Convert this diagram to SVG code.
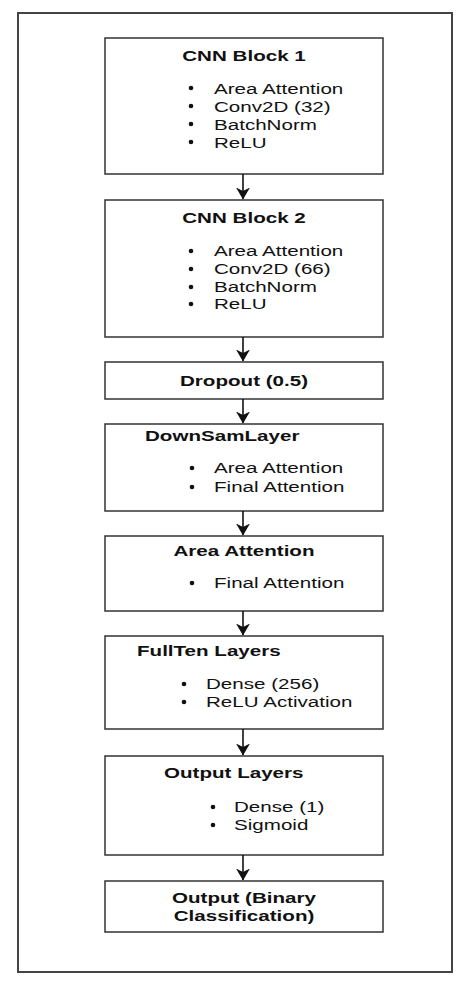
<svg xmlns="http://www.w3.org/2000/svg" width="471" height="986" viewBox="0 0 471 986">
<defs>
<marker id="ah" viewBox="0 0 12 14" refX="11.5" refY="7" markerWidth="12" markerHeight="14" markerUnits="userSpaceOnUse" orient="auto">
<path d="M0,0 L3.5,7 L0,14 L12,7 Z" fill="#111"/>
</marker>
</defs>
<style>
.frame{fill:#fff;stroke:#444;stroke-width:2}
.box{fill:#fff;stroke:#333;stroke-width:1.5}
.t{font-family:"Liberation Sans",Arial,sans-serif;font-size:14.5px;font-weight:bold;fill:#111}
.b{font-family:"Liberation Sans",Arial,sans-serif;font-size:14.5px;fill:#111}
.c{text-anchor:middle}
.dot{fill:#111}
.conn{stroke:#111;stroke-width:1.6;fill:none}
</style>
<rect x="0" y="0" width="471" height="986" fill="#fff"/>
<rect class="frame" x="18" y="13" width="434" height="959"/>

<g id="cnn1">
<rect class="box" x="105" y="38" width="278" height="136"/>
<text class="t c" transform="translate(244,61) scale(1.42,1)">CNN Block 1</text>
<circle class="dot" cx="191" cy="88" r="2.3"/><text class="b" transform="translate(214,94) scale(1.42,1)">Area Attention</text>
<circle class="dot" cx="191" cy="106" r="2.3"/><text class="b" transform="translate(214,112) scale(1.42,1)">Conv2D (32)</text>
<circle class="dot" cx="191" cy="124" r="2.3"/><text class="b" transform="translate(214,130) scale(1.42,1)">BatchNorm</text>
<circle class="dot" cx="191" cy="142" r="2.3"/><text class="b" transform="translate(214,148) scale(1.42,1)">ReLU</text>
</g>

<g id="cnn2">
<rect class="box" x="105" y="200" width="278" height="137"/>
<text class="t c" transform="translate(244,223) scale(1.42,1)">CNN Block 2</text>
<circle class="dot" cx="191" cy="251" r="2.3"/><text class="b" transform="translate(214,256) scale(1.42,1)">Area Attention</text>
<circle class="dot" cx="191" cy="269" r="2.3"/><text class="b" transform="translate(214,274) scale(1.42,1)">Conv2D (66)</text>
<circle class="dot" cx="191" cy="287" r="2.3"/><text class="b" transform="translate(214,292) scale(1.42,1)">BatchNorm</text>
<circle class="dot" cx="191" cy="304" r="2.3"/><text class="b" transform="translate(214,309) scale(1.42,1)">ReLU</text>
</g>

<g id="dropout">
<rect class="box" x="105" y="362" width="278" height="37"/>
<text class="t c" transform="translate(244,386) scale(1.42,1)">Dropout (0.5)</text>
</g>

<g id="downsam">
<rect class="box" x="105" y="424" width="278" height="87"/>
<text class="t" transform="translate(145,441) scale(1.42,1)">DownSamLayer</text>
<circle class="dot" cx="192" cy="468" r="2.3"/><text class="b" transform="translate(214,473) scale(1.42,1)">Area Attention</text>
<circle class="dot" cx="192" cy="487" r="2.3"/><text class="b" transform="translate(214,492) scale(1.42,1)">Final Attention</text>
</g>

<g id="areaatt">
<rect class="box" x="105" y="536" width="278" height="75"/>
<text class="t c" transform="translate(244,556) scale(1.42,1)">Area Attention</text>
<circle class="dot" cx="192" cy="583" r="2.3"/><text class="b" transform="translate(214,588) scale(1.42,1)">Final Attention</text>
</g>

<g id="fullten">
<rect class="box" x="105" y="636" width="278" height="93"/>
<text class="t" transform="translate(137,656) scale(1.42,1)">FullTen Layers</text>
<circle class="dot" cx="184" cy="684" r="2.3"/><text class="b" transform="translate(206,689) scale(1.42,1)">Dense (256)</text>
<circle class="dot" cx="184" cy="702" r="2.3"/><text class="b" transform="translate(206,707) scale(1.42,1)">ReLU Activation</text>
</g>

<g id="outlayers">
<rect class="box" x="105" y="756" width="278" height="99"/>
<text class="t" transform="translate(164,778) scale(1.42,1)">Output Layers</text>
<circle class="dot" cx="213" cy="807" r="2.3"/><text class="b" transform="translate(234,812) scale(1.42,1)">Dense (1)</text>
<circle class="dot" cx="213" cy="825" r="2.3"/><text class="b" transform="translate(234,830) scale(1.42,1)">Sigmoid</text>
</g>

<g id="output">
<rect class="box" x="105" y="881" width="278" height="51"/>
<text class="t c" transform="translate(244,903) scale(1.42,1)">Output (Binary</text>
<text class="t c" transform="translate(244,921) scale(1.42,1)">Classification)</text>
</g>

<g id="connectors">
<line class="conn" x1="243" y1="174" x2="243" y2="199" marker-end="url(#ah)"/>
<line class="conn" x1="243" y1="337" x2="243" y2="361" marker-end="url(#ah)"/>
<line class="conn" x1="243" y1="399" x2="243" y2="423" marker-end="url(#ah)"/>
<line class="conn" x1="243" y1="511" x2="243" y2="535" marker-end="url(#ah)"/>
<line class="conn" x1="243" y1="611" x2="243" y2="635" marker-end="url(#ah)"/>
<line class="conn" x1="243" y1="729" x2="243" y2="755" marker-end="url(#ah)"/>
<line class="conn" x1="243" y1="855" x2="243" y2="880" marker-end="url(#ah)"/>
</g>
</svg>
